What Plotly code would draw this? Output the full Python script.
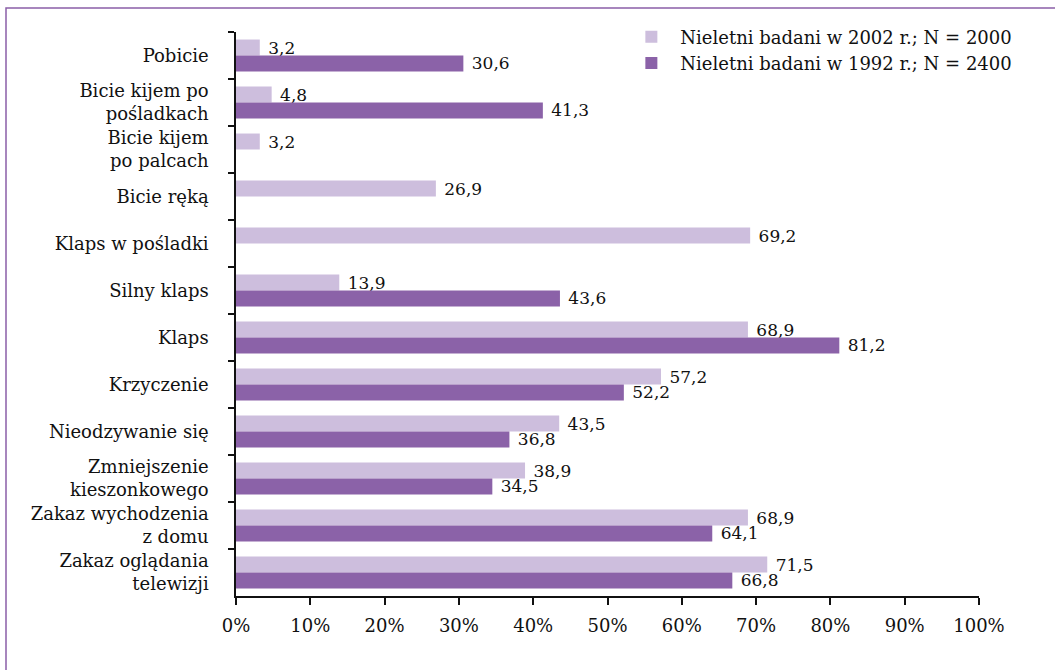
import plotly.graph_objects as go

categories = [
    "Pobicie",
    "Bicie kijem po<br>pośladkach",
    "Bicie kijem<br>po palcach",
    "Bicie ręką",
    "Klaps w pośladki",
    "Silny klaps",
    "Klaps",
    "Krzyczenie",
    "Nieodzywanie się",
    "Zmniejszenie<br>kieszonkowego",
    "Zakaz wychodzenia<br>z domu",
    "Zakaz oglądania<br>telewizji",
]
values_2002 = [3.2, 4.8, 3.2, 26.9, 69.2, 13.9, 68.9, 57.2, 43.5, 38.9, 68.9, 71.5]
values_1992 = [30.6, 41.3, None, None, None, 43.6, 81.2, 52.2, 36.8, 34.5, 64.1, 66.8]
series_names = ["Nieletni badani w 2002 r.; N = 2000", "Nieletni badani w 1992 r.; N = 2400"]
x_ticks = [0, 10, 20, 30, 40, 50, 60, 70, 80, 90, 100]
x_tick_labels = [f"{t}%" for t in x_ticks]

LIGHT = "#CDBEDD"
DARK = "#8B62A8"
FONT = "DejaVu Serif, serif"


def fmt(v):
    return "" if v is None else "\u00a0" + f"{v:.1f}".replace(".", ",")


fig = go.Figure()
for name, vals, col in [(series_names[0], values_2002, LIGHT), (series_names[1], values_1992, DARK)]:
    fig.add_trace(go.Bar(
        y=categories, x=vals, orientation="h", name=name,
        marker=dict(color=col, line=dict(width=0)),
        text=[fmt(v) for v in vals], textposition="outside",
        textfont=dict(family=FONT, size=17, color="#111111"),
        constraintext="none", cliponaxis=False,
        hoverinfo="skip",
    ))

fig.update_layout(
    width=1055, height=670,
    margin=dict(l=236, r=76, t=32, b=74),
    paper_bgcolor="white", plot_bgcolor="white",
    barmode="group", bargap=0.32, bargroupgap=0,
    font=dict(family=FONT, size=18, color="#111111"),
    showlegend=True,
    legend=dict(x=0.52, y=1.024, xanchor="left", yanchor="top",
                font=dict(family=FONT, size=18, color="#111111"),
                bgcolor="rgba(0,0,0,0)", itemwidth=48, tracegroupgap=0),
    xaxis=dict(range=[0, 100], tickvals=x_ticks, ticktext=x_tick_labels,
               showgrid=False, zeroline=False, showline=True, linecolor="#111111", linewidth=1.5,
               ticks="outside", ticklen=7, tickcolor="#111111", tickwidth=1.5,
               ticklabelstandoff=6,
               tickfont=dict(family=FONT, size=18, color="#111111")),
    yaxis=dict(autorange="reversed", showgrid=False, zeroline=False,
               showline=True, linecolor="#111111", linewidth=1.5,
               ticks="outside", ticklen=6, tickcolor="#111111", tickwidth=1.5,
               tickson="boundaries", ticklabelstandoff=22,
               tickfont=dict(family=FONT, size=18, color="#111111")),
)

fig.add_shape(type="rect", xref="paper", yref="paper",
              x0=(6 - 236) / 743, x1=(1070 - 236) / 743,
              y0=(596 - 690) / 564, y1=(596 - 8) / 564,
              line=dict(color="#8B5FA8", width=1.5), fillcolor="rgba(0,0,0,0)", layer="below")

fig.write_html("out.html", config={"displayModeBar": False},
               post_script="document.body.style.margin='0';")
